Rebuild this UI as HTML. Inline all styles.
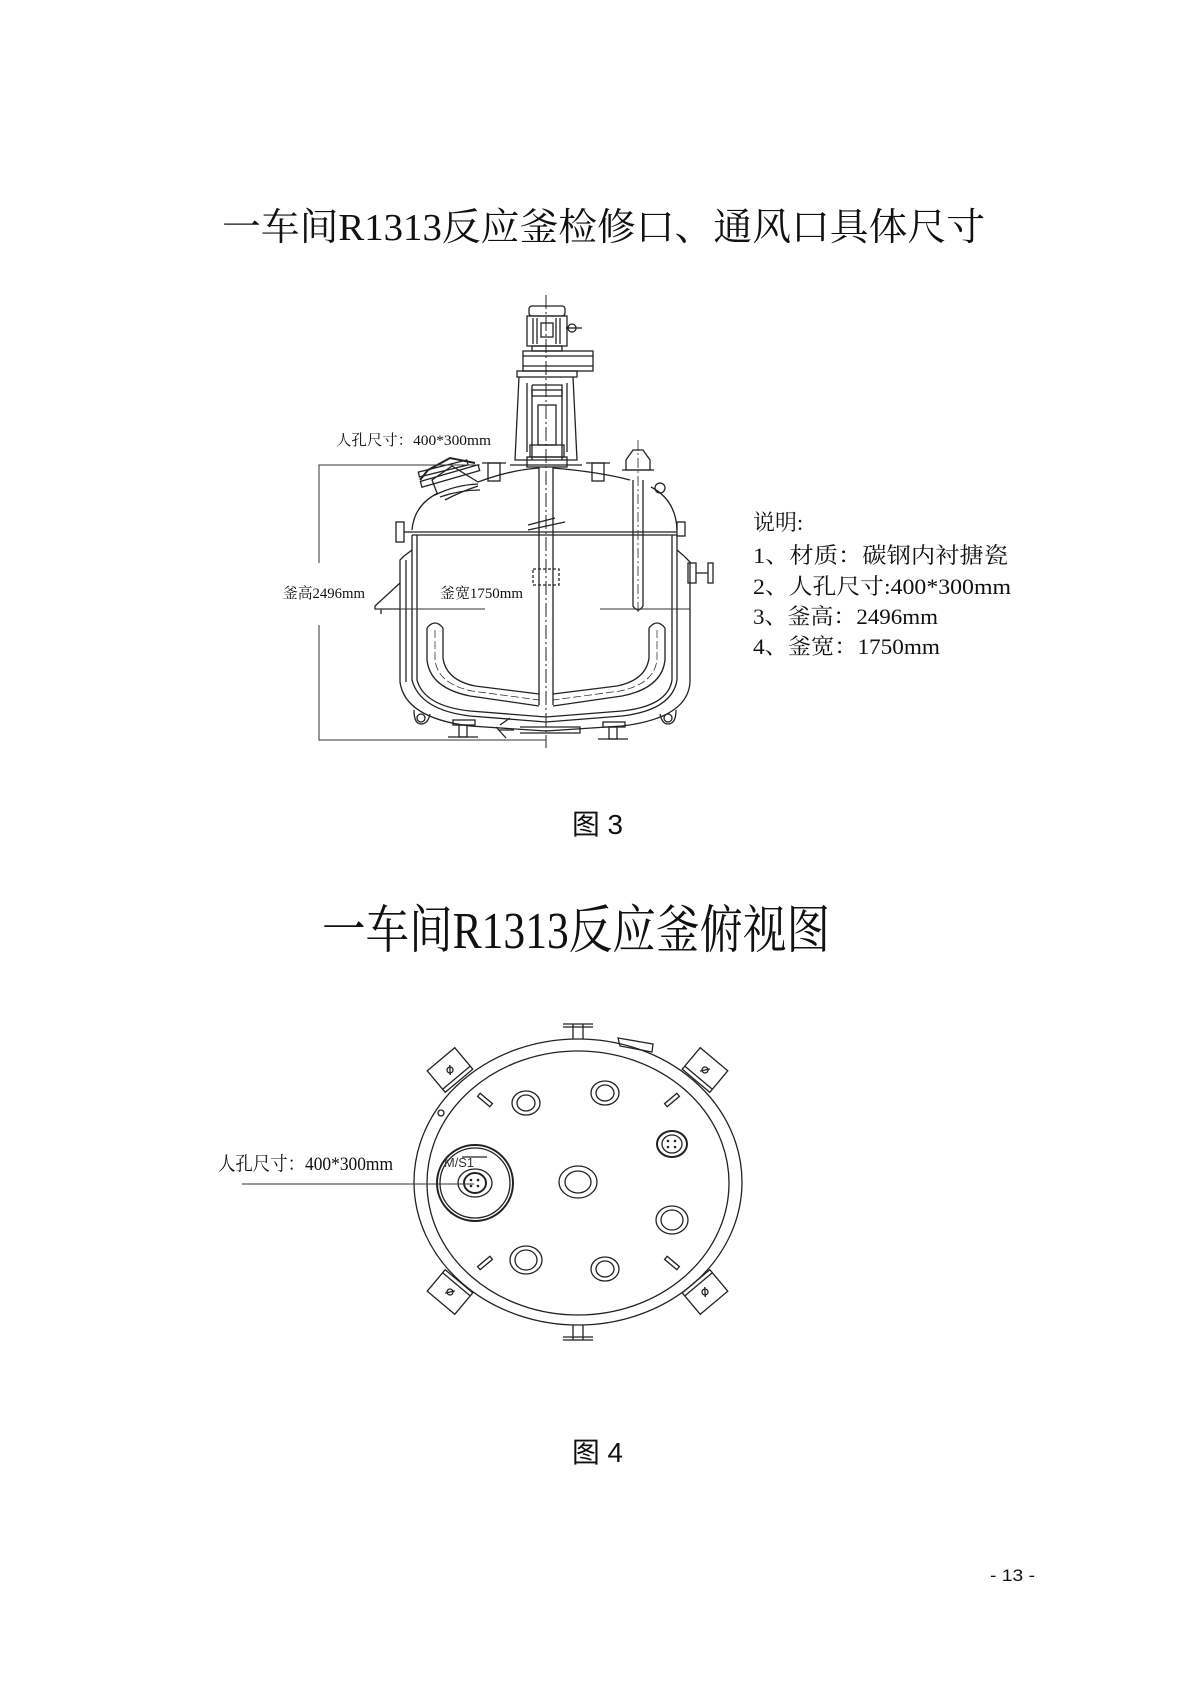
<!DOCTYPE html>
<html><head><meta charset="utf-8"><style>
html,body{margin:0;padding:0;background:#fff}
svg{display:block}
.t{font-family:"Liberation Serif","Noto Serif CJK SC",serif;fill:#111}
.s{font-family:"Liberation Sans","Noto Sans CJK SC",sans-serif;fill:#111}
</style></head><body>
<svg width="1190" height="1683" viewBox="0 0 1190 1683" xmlns="http://www.w3.org/2000/svg">
<rect width="1190" height="1683" fill="#fff"/>
<text class="t" x="222" y="240" font-size="38" textLength="763" lengthAdjust="spacingAndGlyphs">一车间R1313反应釜检修口、通风口具体尺寸</text>
<text class="t" x="322" y="948" font-size="52" textLength="508" lengthAdjust="spacingAndGlyphs">一车间R1313反应釜俯视图</text>
<text class="s" x="572" y="834" font-size="28" textLength="51" lengthAdjust="spacingAndGlyphs">图 3</text>
<text class="s" x="572" y="1462" font-size="28" textLength="51" lengthAdjust="spacingAndGlyphs">图 4</text>
<text class="s" x="990" y="1581" font-size="17" textLength="45" lengthAdjust="spacingAndGlyphs">- 13 -</text>

<g class="t" font-size="22">
<text x="753" y="530">说明:</text>
<text x="753" y="563" textLength="255" lengthAdjust="spacingAndGlyphs">1、材质：碳钢内衬搪瓷</text>
<text x="753" y="594" textLength="258" lengthAdjust="spacingAndGlyphs">2、人孔尺寸:400*300mm</text>
<text x="753" y="624" textLength="185" lengthAdjust="spacingAndGlyphs">3、釜高：2496mm</text>
<text x="753" y="654" textLength="187" lengthAdjust="spacingAndGlyphs">4、釜宽：1750mm</text>
</g>

<g fill="none" stroke="#222" stroke-width="1.3">
<line x1="546" y1="295" x2="546" y2="748" stroke-dasharray="14 3 2 3" stroke-width="1"/>
<rect x="529" y="306" width="36" height="10" rx="3"/>
<rect x="527" y="316" width="40" height="30"/>
<line x1="533" y1="318" x2="533" y2="344"/><line x1="537" y1="318" x2="537" y2="344"/><line x1="556" y1="318" x2="556" y2="344"/><line x1="560" y1="318" x2="560" y2="344"/>
<rect x="541" y="323" width="12" height="14"/>
<circle cx="572" cy="328" r="4"/><line x1="566" y1="328" x2="582" y2="328"/>
<rect x="532" y="346" width="30" height="5"/>
<rect x="523" y="351" width="70" height="20"/>
<line x1="523" y1="356" x2="593" y2="356"/><line x1="523" y1="366" x2="593" y2="366"/>
<rect x="517" y="371" width="60" height="6"/>
<path d="M519,377 L515,460 L577,460 L573,377"/>
<path d="M527,383 L527,452 M567,383 L567,452 M532,385 L562,385 L562,460 M532,385 L532,460"/>
<rect x="532" y="390" width="30" height="6"/>
<rect x="538" y="405" width="18" height="40"/>
<rect x="530" y="445" width="34" height="12"/>
<rect x="527" y="457" width="40" height="10"/>
<rect x="488" y="463" width="12" height="18"/><line x1="482" y1="463" x2="506" y2="463"/>
<rect x="592" y="463" width="12" height="18"/><line x1="586" y1="463" x2="610" y2="463"/>
<line x1="510" y1="465" x2="582" y2="465"/>
<line x1="539" y1="467" x2="539" y2="705"/><line x1="553" y1="467" x2="553" y2="705"/>
<rect x="533" y="569" width="26" height="16" stroke-dasharray="3 2"/>
<path d="M528,525 L555,518 M528,530 L565,522"/>
<path d="M412,530 Q414,505 438,493"/>
<path d="M478,482 Q510,470 539,468 M553,468 Q600,472 630,480"/>
<path d="M651,487 Q676,500 677,530"/>
<path d="M437,493 L432,480 L452,466 L478,482 M445,500 Q460,492 478,486"/>
<path d="M420,480 L428,470 L450,458 L475,463" stroke-width="2"/>
<rect x="420" y="473" width="60" height="6" transform="rotate(-16 450 476)"/>
<rect x="418" y="466" width="50" height="5" transform="rotate(-14 443 468)"/>
<path d="M440,497 Q460,490 480,490" />
<path d="M435,495 Q455,485 478,484"/>
<line x1="412" y1="532" x2="677" y2="532"/><line x1="412" y1="535" x2="677" y2="535"/>
<rect x="396" y="522" width="8" height="20"/><line x1="404" y1="532" x2="412" y2="532"/>
<rect x="677" y="522" width="8" height="14"/>
<circle cx="660" cy="488" r="5"/>
<path d="M412,535 L412,680 Q420,710 470,716 L546,722 L622,716 Q672,710 677,680 L677,535"/>
<path d="M417,535 L417,680 Q424,706 470,711 L546,717 L622,711 Q668,706 672,680 L672,535"/>
<path d="M404,556 L400,560 L400,682 Q405,718 470,726 L546,731 L622,726 Q688,718 690,682 L690,562 L684,556"/>
<path d="M404,556 L412,550 M684,556 L677,550"/>
<line x1="406" y1="560" x2="406" y2="682"/>
<rect x="688" y="563" width="8" height="20"/><line x1="696" y1="573" x2="708" y2="573"/><rect x="708" y="563" width="5" height="20"/>
<path d="M400,583 L375,606 L375,609 L400,609"/>
<line x1="381" y1="609" x2="381" y2="614"/>
<circle cx="421" cy="718" r="4"/><path d="M414,710 Q414,724 421,724 Q428,724 430,714"/>
<circle cx="668" cy="718" r="4"/><path d="M660,714 Q662,724 668,724 Q676,724 676,710"/>
<rect x="453" y="720" width="22" height="5"/><rect x="459" y="725" width="8" height="12"/><line x1="448" y1="737" x2="478" y2="737"/>
<rect x="603" y="722" width="22" height="5"/><rect x="609" y="727" width="8" height="12"/><line x1="598" y1="739" x2="628" y2="739"/>
<path d="M500,725 L510,718 M496,727 L506,738 M498,730 L514,730"/>
<path d="M520,727 L580,727 L580,733 L520,733"/>
<path d="M633,480 L633,606 Q638,614 643,606 L643,480"/>
<path d="M626,470 L626,460 L633,450 L643,450 L650,460 L650,470 Z"/>
<line x1="622" y1="470" x2="654" y2="470"/>
<line x1="638" y1="440" x2="638" y2="612" stroke-dasharray="10 3 2 3" stroke-width="0.8"/>
<path d="M427,628 Q435,618 443,628"/>
<path d="M427,628 L427,660 Q430,688 470,696 L539,706"/>
<path d="M443,628 L443,658 Q446,680 475,686 L539,694"/>
<path d="M665,628 Q657,618 649,628"/>
<path d="M665,628 L665,660 Q662,688 622,696 L553,706"/>
<path d="M649,628 L649,658 Q646,680 617,686 L553,694"/>
<path d="M435,630 L435,660 Q438,684 472,691 L539,700 M657,630 L657,660 Q654,684 620,691 L553,700" stroke-dasharray="8 3" stroke-width="0.7"/>
</g>
<g stroke="#333" stroke-width="1" fill="none">
<path d="M319,563 L319,465 L480,465"/>
<path d="M319,625 L319,740 L546,740"/>
<line x1="375" y1="609" x2="485" y2="609"/>
<line x1="600" y1="609" x2="690" y2="609"/>
</g>
<g class="t" font-size="15">
<text x="283" y="598" textLength="82" lengthAdjust="spacingAndGlyphs">釜高2496mm</text>
<text x="440" y="598" textLength="83" lengthAdjust="spacingAndGlyphs">釜宽1750mm</text>
<text x="336" y="445" textLength="155" lengthAdjust="spacingAndGlyphs">人孔尺寸：400*300mm</text>
</g>

<g fill="none" stroke="#222" stroke-width="1.3">
<ellipse cx="578" cy="1182" rx="164" ry="143"/>
<ellipse cx="578" cy="1183" rx="151" ry="132"/>
<path d="M573,1039 L573,1024 M583,1039 L583,1024"/><line x1="563" y1="1024" x2="593" y2="1024"/><line x1="563" y1="1027" x2="593" y2="1027"/>
<path d="M573,1325 L573,1340 M583,1325 L583,1340"/><line x1="563" y1="1340" x2="593" y2="1340"/><line x1="563" y1="1337" x2="593" y2="1337"/>
<path d="M618,1038 L620,1046 L652,1052 L653,1044 Z"/>
<circle cx="441" cy="1113" r="3"/>
<g transform="translate(450,1070) rotate(-40)"><rect x="-18" y="-14" width="36" height="28"/><line x1="-18" y1="10" x2="18" y2="10"/><circle cx="0" cy="0" r="3"/><line x1="-3" y1="4" x2="3" y2="-4"/></g>
<g transform="translate(705,1070) rotate(40)"><rect x="-18" y="-14" width="36" height="28"/><line x1="-18" y1="10" x2="18" y2="10"/><circle cx="0" cy="0" r="3"/><line x1="-3" y1="4" x2="3" y2="-4"/></g>
<g transform="translate(450,1292) rotate(40)"><rect x="-18" y="-14" width="36" height="28"/><line x1="-18" y1="-10" x2="18" y2="-10"/><circle cx="0" cy="0" r="3"/><line x1="-3" y1="4" x2="3" y2="-4"/></g>
<g transform="translate(705,1292) rotate(-40)"><rect x="-18" y="-14" width="36" height="28"/><line x1="-18" y1="-10" x2="18" y2="-10"/><circle cx="0" cy="0" r="3"/><line x1="-3" y1="4" x2="3" y2="-4"/></g>
<rect x="477" y="1098" width="16" height="4" transform="rotate(40 485 1100)"/>
<rect x="664" y="1098" width="16" height="4" transform="rotate(-40 672 1100)"/>
<rect x="477" y="1261" width="16" height="4" transform="rotate(-40 485 1263)"/>
<rect x="664" y="1261" width="16" height="4" transform="rotate(40 672 1263)"/>
<circle cx="475" cy="1183" r="38" stroke-width="2"/>
<circle cx="475" cy="1183" r="35"/>
<ellipse cx="475" cy="1183" rx="17" ry="14"/>
<ellipse cx="475" cy="1183" rx="11" ry="10" stroke-width="2"/>
<line x1="462" y1="1157" x2="487" y2="1157"/>
<ellipse cx="578" cy="1182" rx="19" ry="16"/><ellipse cx="578" cy="1182" rx="13" ry="11"/>
<ellipse cx="526" cy="1103" rx="14" ry="12"/><ellipse cx="526" cy="1103" rx="9" ry="8"/>
<ellipse cx="605" cy="1093" rx="14" ry="12"/><ellipse cx="605" cy="1093" rx="9" ry="8"/>
<ellipse cx="672" cy="1144" rx="15" ry="13" stroke-width="2"/><ellipse cx="672" cy="1144" rx="10" ry="9"/>
<ellipse cx="672" cy="1220" rx="16" ry="14"/><ellipse cx="672" cy="1220" rx="11" ry="10"/>
<ellipse cx="526" cy="1260" rx="16" ry="14"/><ellipse cx="526" cy="1260" rx="11" ry="10"/>
<ellipse cx="605" cy="1269" rx="14" ry="12"/><ellipse cx="605" cy="1269" rx="9" ry="8"/>
</g>
<g fill="#222">
<circle cx="471" cy="1180" r="1.3"/><circle cx="478" cy="1180" r="1.3"/><circle cx="471" cy="1186" r="1.3"/><circle cx="478" cy="1186" r="1.3"/>
<circle cx="668" cy="1141" r="1.3"/><circle cx="675" cy="1141" r="1.3"/><circle cx="668" cy="1147" r="1.3"/><circle cx="675" cy="1147" r="1.3"/>
</g>
<text x="444" y="1167" font-family="Liberation Sans,sans-serif" font-size="13" fill="#333" textLength="30" lengthAdjust="spacingAndGlyphs">M/S1</text>
<line x1="242" y1="1184" x2="474" y2="1184" stroke="#333" stroke-width="1"/>
<text class="t" x="218" y="1170" font-size="19" textLength="175" lengthAdjust="spacingAndGlyphs">人孔尺寸：400*300mm</text>
</svg>
</body></html>
